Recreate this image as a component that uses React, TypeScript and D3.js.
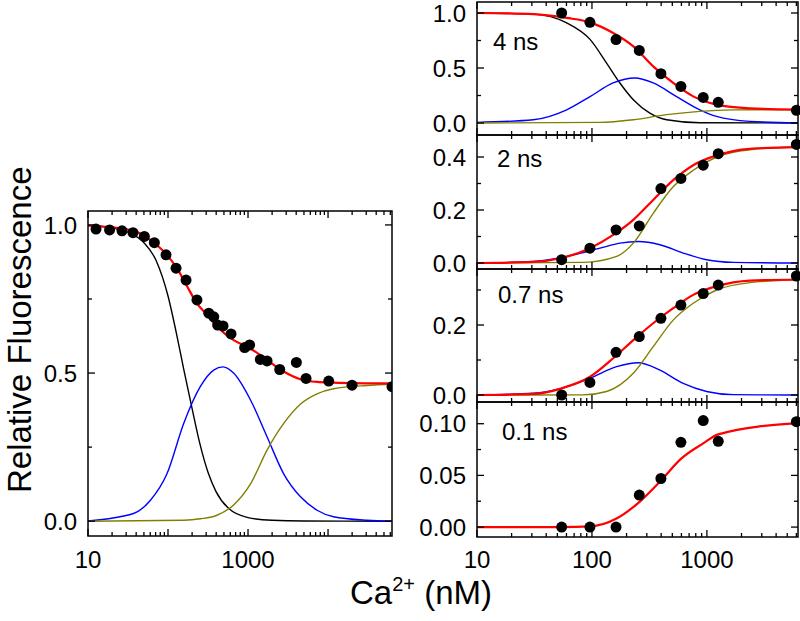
import React from "react";
import * as d3 from "d3";

const FONT = "'Liberation Sans', Arial, Helvetica, sans-serif";
type Pt = [number, number];

// ---------------- Left panel: steady-state fluorescence ----------------
const leftCa = [12.6, 18.6, 26.6, 36.5, 50.6, 67.5, 94.4, 126, 168, 230, 323, 373, 417, 487, 613, 908, 1047, 1425, 1728, 2490, 4020, 5310, 10200, 19950, 63000];
const leftF = [0.986, 0.983, 0.98, 0.974, 0.961, 0.94, 0.899, 0.854, 0.814, 0.747, 0.702, 0.69, 0.662, 0.659, 0.632, 0.586, 0.595, 0.546, 0.541, 0.512, 0.536, 0.482, 0.473, 0.459, 0.454];
const leftBlack: Pt[] = [[10, 0.998], [20, 0.99], [32, 0.975], [50, 0.94], [71, 0.88], [100, 0.76], [126, 0.64], [158, 0.51], [200, 0.38], [251, 0.26], [316, 0.165], [398, 0.1], [562, 0.045], [1000, 0.012], [2000, 0.003], [5000, 0.0005], [63000, 0]];
const leftBlue: Pt[] = [[10, 0.001], [37, 0.026], [60, 0.07], [97, 0.16], [157, 0.33], [254, 0.455], [372, 0.51], [487, 0.521], [660, 0.5], [1070, 0.41], [1728, 0.285], [2790, 0.16], [4500, 0.083], [7290, 0.037], [11700, 0.015], [30900, 0.003], [63000, 0]];
const leftOlive: Pt[] = [[10, 0], [157, 0.003], [254, 0.008], [409, 0.02], [661, 0.055], [1070, 0.125], [1730, 0.24], [2790, 0.33], [4500, 0.395], [7290, 0.43], [11700, 0.447], [30900, 0.458], [63000, 0.462]];
const leftRed: Pt[] = [[10, 0.998], [37, 0.981], [60, 0.949], [97, 0.899], [129, 0.854], [173, 0.793], [230, 0.735], [309, 0.696], [409, 0.657], [661, 0.611], [1070, 0.583], [1730, 0.544], [2790, 0.505], [4500, 0.479], [7290, 0.47], [11700, 0.468], [63000, 0.465]];

// ---------------- Right panels: lifetime components ----------------
const rightCa = [54.5, 96, 162, 258, 398, 594, 929, 1255, 6000];
const ns4F = [1.0, 0.915, 0.758, 0.66, 0.448, 0.333, 0.233, 0.188, 0.115];
const ns2F = [0.0125, 0.056, 0.125, 0.14, 0.281, 0.319, 0.369, 0.4125, 0.4475];
const ns07F = [0.0, 0.036, 0.122, 0.167, 0.219, 0.257, 0.29, 0.314, 0.34];
const ns01F = [0.0, 0.0, 0.0, 0.031, 0.047, 0.082, 0.103, 0.083, 0.102];

const ns4Black: Pt[] = [[10, 1.0], [30.9, 0.99], [60.3, 0.91], [96.2, 0.76], [134, 0.545], [175, 0.364], [229, 0.212], [319, 0.09], [446, 0.03], [869, 0.003], [6200, 0]];
const ns4Blue: Pt[] = [[10, 0.006], [30.9, 0.03], [60.3, 0.12], [96.2, 0.24], [153, 0.364], [236, 0.409], [341, 0.364], [545, 0.24], [869, 0.12], [1213, 0.06], [2366, 0.015], [6200, 0.002]];
const ns4Olive: Pt[] = [[10, 0], [117.5, 0.006], [229, 0.03], [446, 0.076], [869, 0.106], [1695, 0.119], [6200, 0.122]];
const ns4Red: Pt[] = [[10, 1.0], [30.9, 0.99], [60.3, 0.955], [96.2, 0.915], [153, 0.818], [229, 0.697], [341, 0.515], [509, 0.364], [760, 0.242], [1213, 0.167], [2366, 0.133], [6200, 0.122]];

const ns2Blue: Pt[] = [[10, 0], [30.9, 0.006], [60.3, 0.025], [117.5, 0.056], [175, 0.075], [253, 0.081], [390, 0.069], [622, 0.0375], [993, 0.0125], [1695, 0.0025], [6200, 0]];
const ns2Olive: Pt[] = [[10, 0], [84.1, 0.0025], [164, 0.025], [229, 0.075], [341, 0.1875], [509, 0.2875], [760, 0.35], [1213, 0.4], [2366, 0.4275], [6200, 0.4375]];
const ns2Red: Pt[] = [[10, 0], [30.9, 0.004], [54.5, 0.019], [96.2, 0.056], [153, 0.106], [229, 0.163], [341, 0.238], [509, 0.3125], [760, 0.369], [1213, 0.406], [2366, 0.431], [6200, 0.4375]];

const ns07Blue: Pt[] = [[10, 0], [30.9, 0.005], [54.5, 0.019], [96.2, 0.048], [164, 0.081], [253, 0.092], [390, 0.071], [622, 0.033], [993, 0.01], [1695, 0.001], [6200, 0]];
const ns07Olive: Pt[] = [[10, 0], [84.1, 0.0005], [134, 0.01], [229, 0.062], [341, 0.138], [509, 0.214], [760, 0.262], [1213, 0.3], [2366, 0.321], [6200, 0.329]];
const ns07Red: Pt[] = [[10, 0], [30.9, 0.003], [54.5, 0.019], [96.2, 0.052], [153, 0.105], [229, 0.157], [341, 0.205], [509, 0.248], [760, 0.286], [1213, 0.311], [2366, 0.327], [6200, 0.33]];

const ns01Red: Pt[] = [[10, 0], [54.5, 0], [96.2, 0.0006], [162, 0.008], [258, 0.0242], [398, 0.045], [594, 0.066], [929, 0.081], [1255, 0.0897], [6200, 0.1006]];

const leftYTicks = [0, 0.5, 1.0];
const leftYLabels = ["0.0", "0.5", "1.0"];
const leftXLabels = [10, 1000];
const rightXLabels = [10, 100, 1000];
const panelNames = ["4 ns", "2 ns", "0.7 ns", "0.1 ns"];

interface Curve { data: Pt[]; color: string; width: number; linear?: boolean }
interface PanelProps {
  id: string;
  left: number; right: number; top: number; bottom: number;
  xMax: number; yDomain: [number, number];
  yMajor: number[]; yLabels: string[]; yMinor: number[];
  xLabels: number[]; curves: Curve[]; ca: number[]; vals: number[];
  label?: string; labelX?: number; labelY?: number; r: number; clipDots?: boolean;
}

function Panel(p: PanelProps) {
  const x = d3.scaleLog().domain([10, p.xMax]).range([p.left, p.right]);
  const y = d3.scaleLinear().domain(p.yDomain).range([p.bottom, p.top]);
  const majX: number[] = [];
  const minX: number[] = [];
  for (let e = 1; e <= 5; e++) {
    for (let k = 1; k <= 9; k++) {
      const v = k * Math.pow(10, e);
      if (v < 10 || v > p.xMax) continue;
      (k === 1 ? majX : minX).push(v);
    }
  }
  const MJ = 7, MN = 4;
  const lines: React.ReactNode[] = [];
  majX.forEach((v, i) => {
    const xx = x(v);
    lines.push(<line key={"xb" + i} x1={xx} x2={xx} y1={p.bottom} y2={p.bottom - MJ} />);
    lines.push(<line key={"xt" + i} x1={xx} x2={xx} y1={p.top} y2={p.top + MJ} />);
  });
  minX.forEach((v, i) => {
    const xx = x(v);
    lines.push(<line key={"mb" + i} x1={xx} x2={xx} y1={p.bottom} y2={p.bottom - MN} />);
    lines.push(<line key={"mt" + i} x1={xx} x2={xx} y1={p.top} y2={p.top + MN} />);
  });
  p.yMajor.forEach((v, i) => {
    const yy = y(v);
    lines.push(<line key={"yl" + i} x1={p.left} x2={p.left + MJ} y1={yy} y2={yy} />);
    lines.push(<line key={"yr" + i} x1={p.right} x2={p.right - MJ} y1={yy} y2={yy} />);
  });
  p.yMinor.forEach((v, i) => {
    const yy = y(v);
    lines.push(<line key={"nl" + i} x1={p.left} x2={p.left + MN} y1={yy} y2={yy} />);
    lines.push(<line key={"nr" + i} x1={p.right} x2={p.right - MN} y1={yy} y2={yy} />);
  });
  const gen = (c: Curve) =>
    d3.line<Pt>().x((d) => x(d[0])).y((d) => y(d[1])).curve(c.linear ? d3.curveLinear : d3.curveMonotoneX)(c.data) || "";
  const clipId = "clip-" + p.id;
  return (
    <g>
      <defs>
        <clipPath id={clipId}>
          <rect x={p.left} y={p.top} width={p.right - p.left} height={p.bottom - p.top} />
        </clipPath>
      </defs>
      {p.curves.map((c, i) => (
        <path key={"c" + i} d={gen(c)} fill="none" stroke={c.color} strokeWidth={c.width} strokeLinejoin="round" />
      ))}
      <g clipPath={p.clipDots ? `url(#${clipId})` : undefined}>
        {p.ca.map((c, i) => (
          <circle key={"p" + i} cx={x(c)} cy={y(p.vals[i])} r={p.r} fill="#000" />
        ))}
      </g>
      <g stroke="#000" strokeWidth={1.3}>{lines}</g>
      <rect x={p.left} y={p.top} width={p.right - p.left} height={p.bottom - p.top} fill="none" stroke="#000" strokeWidth={1.5} />
      {p.yMajor.map((v, i) => (
        <text key={"ty" + i} x={p.left - 11} y={y(v)} dy="0.36em" textAnchor="end" fontSize={24} fontFamily={FONT} fill="#000">
          {p.yLabels[i]}
        </text>
      ))}
      {p.xLabels.map((v, i) => (
        <text key={"tx" + i} x={x(v)} y={568} textAnchor="middle" fontSize={24} fontFamily={FONT} fill="#000">
          {String(v)}
        </text>
      ))}
      {p.label && (
        <text x={p.labelX} y={p.labelY} fontSize={24} fontFamily={FONT} fill="#000">{p.label}</text>
      )}
    </g>
  );
}

export default function App() {
  const RL = 477, RR = 798;
  const wide = 2.2, thin = 1.4;
  return (
    <svg width={800} height={621} style={{ position: "absolute", left: 0, top: 0, background: "#fff" }}>
      <rect x={0} y={0} width={800} height={621} fill="#fff" />
      <Panel
        id="left" left={88} right={392} top={211} bottom={536} xMax={63000} yDomain={[-0.05, 1.047]}
        yMajor={leftYTicks} yLabels={leftYLabels} yMinor={[0.25, 0.75]} xLabels={leftXLabels}
        curves={[
          { data: leftBlack, color: "#000", width: thin },
          { data: leftBlue, color: "#0000ff", width: thin },
          { data: leftOlive, color: "#808000", width: thin },
          { data: leftRed, color: "#ff0000", width: wide },
        ]}
        ca={leftCa} vals={leftF} r={5.5} clipDots={true}
      />
      <Panel
        id="p1" left={RL} right={RR} top={2} bottom={135} xMax={6200} yDomain={[-0.109, 1.1]}
        yMajor={[0, 0.5, 1.0]} yLabels={["0.0", "0.5", "1.0"]} yMinor={[0.25, 0.75]} xLabels={[]}
        curves={[
          { data: ns4Black, color: "#000", width: thin },
          { data: ns4Blue, color: "#0000ff", width: thin },
          { data: ns4Olive, color: "#808000", width: thin },
          { data: ns4Red, color: "#ff0000", width: wide },
        ]}
        ca={rightCa} vals={ns4F} r={5.5} label={panelNames[0]} labelX={493} labelY={50}
      />
      <Panel
        id="p2" left={RL} right={RR} top={135} bottom={269} xMax={6200} yDomain={[-0.0226, 0.483]}
        yMajor={[0, 0.2, 0.4]} yLabels={["0.0", "0.2", "0.4"]} yMinor={[0.1, 0.3]} xLabels={[]}
        curves={[
          { data: ns2Blue, color: "#0000ff", width: thin },
          { data: ns2Olive, color: "#808000", width: thin },
          { data: ns2Red, color: "#ff0000", width: wide },
        ]}
        ca={rightCa} vals={ns2F} r={5.5} label={panelNames[1]} labelX={497} labelY={167}
      />
      <Panel
        id="p3" left={RL} right={RR} top={269} bottom={402} xMax={6200} yDomain={[-0.02, 0.36]}
        yMajor={[0, 0.2]} yLabels={["0.0", "0.2"]} yMinor={[0.1, 0.3]} xLabels={[]}
        curves={[
          { data: ns07Blue, color: "#0000ff", width: thin },
          { data: ns07Olive, color: "#808000", width: thin },
          { data: ns07Red, color: "#ff0000", width: wide },
        ]}
        ca={rightCa} vals={ns07F} r={5.5} label={panelNames[2]} labelX={498} labelY={303}
      />
      <Panel
        id="p4" left={RL} right={RR} top={402} bottom={537} xMax={6200} yDomain={[-0.0096, 0.121]}
        yMajor={[0, 0.05, 0.1]} yLabels={["0.00", "0.05", "0.10"]} yMinor={[0.025, 0.075]} xLabels={rightXLabels}
        curves={[{ data: ns01Red, color: "#ff0000", width: wide }]}
        ca={rightCa} vals={ns01F} r={5.5} label={panelNames[3]} labelX={502} labelY={440}
      />
      <text transform="translate(31,493) rotate(-90)" fontSize={33} fontFamily={FONT} fill="#000">
        Relative Fluorescence
      </text>
      <text x={350} y={604} fontSize={33} fontFamily={FONT} fill="#000">
        Ca
        <tspan fontSize={20} dy={-13}>2+</tspan>
        <tspan dy={13}> (nM)</tspan>
      </text>
    </svg>
  );
}
